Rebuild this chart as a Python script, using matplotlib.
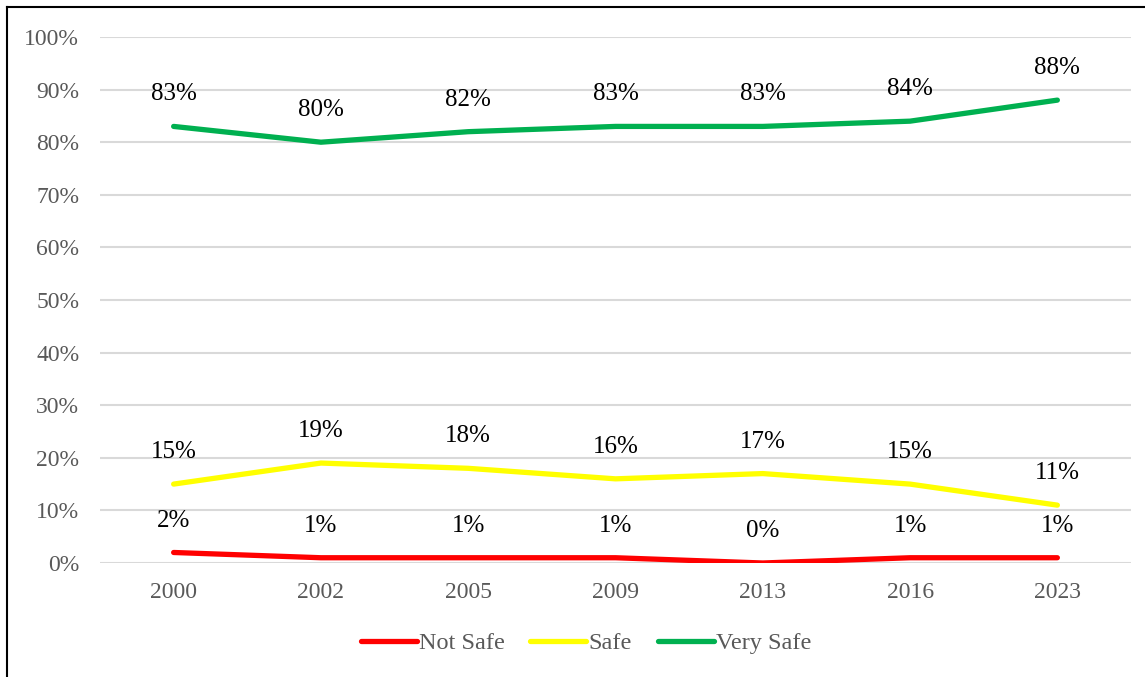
import matplotlib.pyplot as plt
from matplotlib.lines import Line2D

years = ["2000", "2002", "2005", "2009", "2013", "2016", "2023"]
not_safe = [2, 1, 1, 1, 0, 1, 1]
safe = [15, 19, 18, 16, 17, 15, 11]
very_safe = [83, 80, 82, 83, 83, 84, 88]

series = [("Not Safe", not_safe, "#FF0000"),
          ("Safe", safe, "#FFFF00"),
          ("Very Safe", very_safe, "#00B050")]

plt.rcParams['font.family'] = ['Liberation Serif', 'DejaVu Serif']

fig = plt.figure(figsize=(11.45, 6.77), dpi=100)
ax = fig.add_axes([100 / 1145, 114 / 677, 1031 / 1145, 526 / 677])

x = list(range(len(years)))
for name, vals, col in series:
    ax.plot(x, vals, color=col, lw=3.8, solid_capstyle='round', label=name, zorder=3)
    for xi, v in zip(x, vals):
        ax.annotate(f"{v}%", (xi, v), xytext=(0, 23), textcoords='offset points',
                    ha='center', va='center', fontsize=18, color='black', zorder=4)

ax.set_xlim(-0.5, len(years) - 0.5)
ax.set_ylim(0, 100)
ax.set_yticks(range(0, 101, 10))
ax.set_yticklabels([f"{v}%" for v in range(0, 101, 10)])
ax.set_xticks(x)
ax.set_xticklabels(years)
ax.tick_params(length=0, labelsize=17, colors='#595959')
ax.tick_params(axis='x', pad=14)
ax.tick_params(axis='y', pad=15)
ax.grid(axis='y', color='#D9D9D9', lw=1.5)
ax.set_axisbelow(True)
for s in ax.spines.values():
    s.set_visible(False)

handles = [Line2D([0], [0], color=c, lw=3.8, solid_capstyle='round') for _, _, c in series]
fig.legend(handles, [n for n, _, _ in series], loc='center',
           bbox_to_anchor=(586 / 1145, 1 - 643 / 677),
           ncol=3, frameon=False, fontsize=17.5, handlelength=2.3, handletextpad=0.1,
           columnspacing=1.05, labelcolor='#595959')

# outer border (left and top visible)
fig.add_artist(Line2D([7 / 1145, 7 / 1145], [0, 1 - 7 / 677], color='black', lw=1.5,
                      transform=fig.transFigure))
fig.add_artist(Line2D([7 / 1145, 1], [1 - 7 / 677, 1 - 7 / 677], color='black', lw=1.5,
                      transform=fig.transFigure))

fig.savefig("out.png", dpi=100)
